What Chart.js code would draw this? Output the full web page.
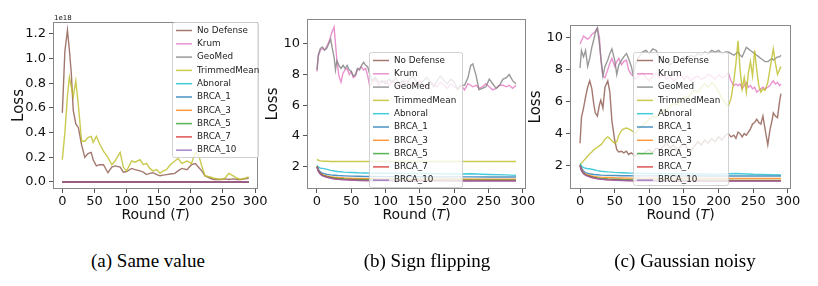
<!DOCTYPE html>
<html>
<head>
<meta charset="utf-8">
<script src="https://cdn.jsdelivr.net/npm/chart.js@4.4.1/dist/chart.umd.min.js"></script>
<style>
  body { margin: 0; background: #fff; width: 818px; height: 286px; position: relative; overflow: hidden; }
  canvas { position: absolute; top: 0; }
  .cap { position: absolute; top: 250px; font: 19px "Liberation Serif", serif; color: #000; transform: translateX(-50%); white-space: nowrap; }
</style>
</head>
<body>
<canvas id="chartA" width="275" height="232" style="left:0px"></canvas>
<canvas id="chartB" width="280" height="232" style="left:262px"></canvas>
<canvas id="chartC" width="292" height="232" style="left:526px"></canvas>
<div class="cap" style="left:148px">(a) Same value</div>
<div class="cap" style="left:427px">(b) Sign flipping</div>
<div class="cap" style="left:685px">(c) Gaussian noisy</div>
<script>
// legend names, same order in all three plots
var seriesNames = ['No Defense','Krum','GeoMed','TrimmedMean','Abnoral','BRCA_1','BRCA_3','BRCA_5','BRCA_7','BRCA_10'];
var xTicks = [0, 50, 100, 150, 200, 250, 300];
var yTicksA = [0, 0.2, 0.4, 0.6, 0.8, 1.0, 1.2];
var yTicksBC = [2, 4, 6, 8, 10];

// (a) Same value, loss in units of 1e18
var roundsA = [0,4,8,11,14,17,21,25,30,35,
  40,45,48,53,58,64,71,77,82,90,
  95,100,108,113,121,126,131,136,141,147,
  152,157,162,168,175,180,186,194,201,207,
  212,217,222,230,236,246,253,259,266,272,
  277,284,290];
var noDefA = [0.56,1.06,1.23,1.07,0.88,0.58,0.47,0.44,0.30,0.20,
  0.23,0.24,0.18,0.13,0.14,0.14,0.075,0.12,0.13,0.12,
  0.08,0.085,0.11,0.10,0.09,0.08,0.06,0.07,0.075,0.06,
  0.05,0.055,0.06,0.065,0.07,0.09,0.11,0.10,0.14,0.15,
  0.12,0.09,0.05,0.03,0.02,0.02,0.025,0.02,0.025,0.02,
  0.02,0.025,0.03];
var trimA = [0.18,0.40,0.70,0.85,0.77,0.69,0.82,0.62,0.33,0.33,
  0.36,0.37,0.32,0.37,0.31,0.25,0.20,0.14,0.17,0.24,
  0.12,0.09,0.17,0.16,0.18,0.14,0.15,0.11,0.09,0.10,
  0.07,0.09,0.10,0.14,0.17,0.19,0.15,0.17,0.15,0.24,
  0.22,0.13,0.05,0.04,0.03,0.02,0.03,0.07,0.05,0.03,
  0.02,0.03,0.04];
// the other eight defenses sit at ~0 on the 1e18 scale
var roundsFlat = [0, 290];
var lossFlat = [0, 0];

// (b) Sign flipping
var roundsB = [0,2,5,8,11,14,17,20,22,25,
  27,29,32,35,38,41,44,47,50,53,
  56,59,62,65,68,71,74,77,80,85,
  90,95,100,105,110,115,120,125,130,135,
  140,145,150,155,160,165,170,175,180,185,
  190,195,200,205,210,215,220,224,227,232,
  236,241,246,251,256,261,266,271,276,280,
  285,290];
var krumB = [8.2,9.2,9.6,9.7,9.6,9.8,10.1,10.5,10.8,11.1,
  10.0,9.0,7.9,7.5,8.1,8.3,8.4,8.0,8.2,7.8,
  7.9,8.3,8.4,8.5,8.3,8.4,7.9,7.2,7.5,7.7,
  7.3,7.5,7.6,7.3,7.6,7.4,7.2,7.5,7.6,7.4,
  7.2,7.4,7.6,7.3,7.2,7.5,7.4,7.2,7.5,7.3,
  7.1,7.4,7.2,7.1,7.3,7.0,7.4,7.3,7.2,7.3,
  7.1,7.2,7.4,7.2,7.0,7.1,7.3,7.3,7.2,7.3,
  7.1,7.3];
var geoMedB = [8.3,9.3,9.7,9.8,9.6,9.7,10.0,10.3,9.8,9.1,
  8.3,8.9,8.6,8.4,8.6,8.4,8.6,8.3,8.2,7.9,
  8.0,8.4,8.3,8.6,8.8,8.6,8.5,8.0,7.6,7.8,
  7.5,7.6,7.4,7.7,7.5,7.8,7.4,7.6,7.3,7.7,
  7.9,7.5,7.3,7.6,7.8,7.5,7.2,7.6,7.9,7.6,
  7.4,7.7,7.5,7.0,7.3,7.3,7.8,8.6,8.7,7.9,
  7.0,7.1,7.2,7.7,7.4,7.1,7.3,7.7,7.8,8.0,
  7.6,7.4];

// smooth curves share a coarser round grid
var roundsS = [0,2,4,6,8,10,15,20,25,30,40,50,60,70,80,100,125,150,175,200,225,250,275,290];
var trimB    = [2.45,2.40,2.37,2.35,2.34,2.33,2.33,2.32,2.32,2.32,2.32,2.32,2.32,2.32,2.32,2.32,2.32,2.32,2.32,2.32,2.32,2.32,2.32,2.32];
var abnoralB = [2.05,1.95,1.90,1.88,1.87,1.85,1.80,1.74,1.70,1.66,1.62,1.60,1.58,1.57,1.56,1.55,1.54,1.53,1.52,1.50,1.52,1.47,1.44,1.41];
var brca1B   = [2.00,1.80,1.68,1.60,1.55,1.52,1.47,1.44,1.42,1.40,1.38,1.36,1.35,1.34,1.34,1.33,1.32,1.32,1.31,1.31,1.31,1.30,1.30,1.30];
var brca3B   = [2.00,1.75,1.60,1.52,1.46,1.42,1.36,1.32,1.29,1.27,1.24,1.22,1.21,1.20,1.19,1.18,1.18,1.17,1.17,1.17,1.16,1.16,1.16,1.16];
var brca5B   = [1.98,1.72,1.57,1.49,1.43,1.39,1.32,1.27,1.24,1.21,1.17,1.15,1.14,1.13,1.12,1.11,1.11,1.10,1.10,1.10,1.10,1.09,1.09,1.09];
var brca7B   = [1.97,1.70,1.55,1.46,1.40,1.36,1.29,1.23,1.19,1.16,1.13,1.11,1.09,1.08,1.07,1.07,1.06,1.06,1.06,1.05,1.05,1.05,1.05,1.05];
var brca10B  = [1.96,1.69,1.54,1.45,1.39,1.35,1.28,1.22,1.18,1.15,1.12,1.10,1.08,1.07,1.06,1.06,1.05,1.05,1.05,1.04,1.04,1.04,1.04,1.04];

// (c) Gaussian noisy
var roundsC = [0,2,5,8,11,14,17,20,22,25,
  28,30,33,36,40,43,46,50,53,56,
  60,63,67,70,74,77,80,85,90,95,
  100,105,110,115,120,125,130,135,140,145,
  150,155,160,165,170,175,180,185,190,195,
  200,205,210,214,218,222,225,228,231,234,
  237,240,243,246,249,252,255,258,261,264,
  267,271,274,277,279,282,285,288,290];
var noDefC = [3.4,5.0,5.6,6.3,6.9,7.3,6.8,5.8,5.3,5.1,
  5.8,6.1,5.6,6.9,7.3,6.6,4.8,3.6,3.0,2.85,
  2.9,2.8,2.9,2.7,2.8,2.7,2.6,2.8,2.7,2.9,
  3.0,2.8,3.1,3.0,3.2,3.4,3.1,3.3,3.0,3.2,
  3.4,3.1,2.9,3.2,3.5,3.3,3.6,3.4,3.7,3.5,
  3.8,3.6,3.9,4.0,3.8,3.9,3.7,4.1,4.0,3.8,
  4.0,3.9,4.1,4.3,4.6,4.7,4.9,4.7,4.6,5.1,
  4.3,3.3,4.2,4.8,5.3,5.1,5.0,6.0,6.5];
var krumC = [9.6,9.8,10.1,10.0,9.9,10.0,10.2,10.3,10.4,10.6,
  10.0,8.6,7.6,7.5,8.0,8.4,8.7,8.2,8.5,8.7,
  8.3,8.5,8.6,8.0,7.7,7.6,7.4,7.6,7.8,7.5,
  7.3,7.6,7.8,7.5,7.7,7.4,7.6,7.3,7.5,7.7,
  7.4,7.6,7.3,7.5,7.6,7.4,7.5,7.7,7.6,7.4,
  7.7,7.5,7.6,7.8,7.3,7.0,7.1,7.0,7.1,6.8,
  7.0,7.2,6.9,7.0,6.8,6.9,6.6,6.7,6.8,6.9,
  6.8,6.9,7.0,7.2,7.3,7.1,7.2,7.0,7.1];
var geoMedC = [8.1,9.2,8.8,9.2,8.2,8.7,9.4,9.9,10.3,10.6,
  9.6,8.8,7.6,8.2,8.6,9.0,9.3,8.6,7.7,8.3,
  8.6,8.8,9.0,8.7,8.2,7.6,8.4,8.8,9.1,9.2,
  9.0,9.3,9.2,8.6,8.4,8.6,8.3,8.5,8.7,8.6,
  8.8,8.7,8.9,8.8,9.0,8.9,9.1,9.0,9.2,9.1,
  9.2,9.0,9.1,9.1,9.0,8.9,9.0,9.1,8.9,8.8,
  9.1,9.4,9.3,9.2,9.1,9.0,8.9,8.8,8.7,8.6,
  8.5,8.5,8.6,8.7,8.6,8.7,8.8,8.8,8.9];
var trimC = [2.1,2.15,2.3,2.45,2.6,2.75,2.85,3.0,3.05,3.15,
  3.25,3.3,3.45,3.65,3.8,3.7,3.55,3.4,3.5,3.9,
  4.2,4.3,4.35,4.3,4.2,4.1,4.0,4.3,4.5,4.7,
  4.9,5.1,5.0,5.3,5.5,5.4,5.7,5.9,5.8,6.1,
  6.3,6.2,6.5,6.7,6.6,6.9,7.1,6.9,7.2,7.0,
  6.6,6.2,5.9,5.7,6.2,7.3,8.4,9.8,8.0,6.8,
  7.5,6.6,7.8,8.5,7.6,9.2,8.0,7.0,6.6,6.8,
  6.7,7.2,8.0,8.8,9.3,8.4,7.7,8.0,8.2];
var abnoralC = [2.12,1.98,1.90,1.86,1.84,1.82,1.79,1.74,1.69,1.65,1.61,1.58,1.56,1.54,1.53,1.51,1.50,1.49,1.48,1.47,1.51,1.46,1.44,1.42];
var brca1C   = [2.05,1.85,1.72,1.63,1.57,1.53,1.48,1.45,1.43,1.41,1.39,1.38,1.37,1.37,1.36,1.36,1.36,1.35,1.35,1.35,1.35,1.35,1.35,1.35];
var brca3C   = [2.03,1.78,1.62,1.53,1.47,1.43,1.37,1.33,1.30,1.28,1.26,1.24,1.23,1.22,1.22,1.21,1.21,1.21,1.20,1.20,1.20,1.20,1.20,1.20];
var brca5C   = [2.01,1.74,1.58,1.49,1.43,1.39,1.32,1.27,1.23,1.20,1.17,1.15,1.13,1.12,1.11,1.10,1.10,1.09,1.09,1.09,1.08,1.08,1.08,1.08];
var brca7C   = [2.00,1.72,1.56,1.47,1.41,1.37,1.29,1.23,1.19,1.16,1.12,1.10,1.08,1.07,1.06,1.05,1.05,1.04,1.04,1.04,1.04,1.04,1.04,1.04];
var brca10C  = [1.99,1.70,1.55,1.46,1.40,1.36,1.28,1.22,1.18,1.15,1.11,1.09,1.07,1.06,1.05,1.04,1.04,1.03,1.03,1.03,1.03,1.03,1.03,1.03];

// matplotlib tab10 order
var colors = ['140,86,75','227,119,194','127,127,127','188,189,34','23,190,207',
              '31,119,180','255,127,14','44,160,44','214,39,40','148,103,189'];

Chart.defaults.font.family = "'DejaVu Sans'";
Chart.defaults.font.size = 13;
Chart.defaults.color = '#111';

function line(i, xs, ys) {
  return {
    label: seriesNames[i],
    data: xs.map(function (x, k) { return { x: x, y: ys[k] }; }),
    borderColor: 'rgba(' + colors[i] + ',0.8)',
    borderWidth: 1.4,
    pointRadius: 0,
    fill: false,
    tension: 0,
    order: 10 - i   // later series on top, like matplotlib
  };
}

// frame, axis titles, offset text and an in-axes legend
var decor = {
  id: 'decor',
  afterDraw: function (chart, args, o) {
    var ctx = chart.ctx, a = chart.chartArea;
    ctx.save();
    ctx.strokeStyle = '#888';
    ctx.lineWidth = 1;
    ctx.strokeRect(Math.round(a.left) + 0.5, Math.round(a.top) + 0.5,
                   Math.round(a.right - a.left) - 1, Math.round(a.bottom - a.top) - 1);

    // x title with italic T
    ctx.fillStyle = '#111';
    ctx.textBaseline = 'alphabetic';
    ctx.textAlign = 'left';
    var f = "14px 'DejaVu Sans'", fi = "italic 14px 'DejaVu Sans'";
    ctx.font = f;
    var w1 = ctx.measureText('Round (').width, w3 = ctx.measureText(')').width;
    ctx.font = fi;
    var w2 = ctx.measureText('T').width;
    var x0 = (a.left + a.right) / 2 - (w1 + w2 + w3) / 2, ty = 219;
    ctx.font = f; ctx.fillText('Round (', x0, ty);
    ctx.font = fi; ctx.fillText('T', x0 + w1, ty);
    ctx.font = f; ctx.fillText(')', x0 + w1 + w2, ty);

    // y title
    ctx.save();
    ctx.translate(a.left - 34, (a.top + a.bottom) / 2);
    ctx.rotate(-Math.PI / 2);
    ctx.textAlign = 'center';
    ctx.textBaseline = 'middle';
    ctx.font = "15px 'DejaVu Sans'";
    ctx.fillText('Loss', 0, 0);
    ctx.restore();

    if (o.offsetText) {
      ctx.font = "7px 'DejaVu Sans'";
      ctx.textAlign = 'left';
      ctx.fillText(o.offsetText, a.left + 1, a.top - 2);
    }

    // legend box
    var b = o.box;
    ctx.beginPath();
    ctx.roundRect(b[0] + 0.5, b[1] + 0.5, b[2], b[3], 2);
    ctx.fillStyle = 'rgba(255,255,255,0.8)';
    ctx.fill();
    ctx.strokeStyle = 'rgba(204,204,204,0.9)';
    ctx.stroke();
    ctx.font = "8.8px 'DejaVu Sans'";
    ctx.textBaseline = 'middle';
    ctx.textAlign = 'left';
    chart.data.datasets.forEach(function (ds, i) {
      var y = b[1] + 8.5 + i * 13.3;
      ctx.strokeStyle = ds.borderColor;
      ctx.lineWidth = 1.5;
      ctx.beginPath();
      ctx.moveTo(b[0] + 4, y);
      ctx.lineTo(b[0] + 20, y);
      ctx.stroke();
      ctx.fillStyle = '#222';
      ctx.fillText(ds.label, b[0] + 25, y);
    });
    ctx.restore();
  }
};

function makeChart(id, datasets, opt) {
  return new Chart(document.getElementById(id), {
    type: 'line',
    data: { datasets: datasets },
    plugins: [decor],
    options: {
      responsive: false,
      animation: false,
      devicePixelRatio: 1,
      layout: { padding: { top: opt.top, right: opt.right, left: 0, bottom: 0 } },
      plugins: {
        legend: { display: false },
        tooltip: { enabled: false },
        decor: { box: opt.box, offsetText: opt.offsetText }
      },
      scales: {
        x: {
          type: 'linear',
          min: -14.5, max: 304.5,
          afterBuildTicks: function (s) { s.ticks = xTicks.map(function (v) { return { value: v }; }); },
          afterFit: function (s) { s.height = 43; },
          ticks: { padding: 1, maxRotation: 0, autoSkip: false, color: '#111', font: { size: 13 } },
          grid: { drawOnChartArea: false, drawTicks: true, tickLength: 4, color: '#555' },
          border: { display: false }
        },
        y: {
          min: opt.ymin, max: opt.ymax,
          afterBuildTicks: function (s) { s.ticks = opt.yTicks.map(function (v) { return { value: v }; }); },
          afterFit: function (s) { s.width = opt.yw; },
          ticks: { padding: 3, autoSkip: false, color: '#111', font: { size: 13 }, callback: opt.fmt },
          grid: { drawOnChartArea: false, drawTicks: true, tickLength: 4, color: '#555' },
          border: { display: false }
        }
      }
    }
  });
}

makeChart('chartA', [
  line(0, roundsA, noDefA), line(1, roundsFlat, lossFlat), line(2, roundsFlat, lossFlat),
  line(3, roundsA, trimA), line(4, roundsFlat, lossFlat), line(5, roundsFlat, lossFlat),
  line(6, roundsFlat, lossFlat), line(7, roundsFlat, lossFlat), line(8, roundsFlat, lossFlat),
  line(9, roundsFlat, lossFlat)
], { top: 22, right: 17, yw: 53, ymin: -0.057, ymax: 1.297, yTicks: yTicksA,
     fmt: function (v) { return v.toFixed(1); }, box: [172, 22, 86, 135], offsetText: '1e18' });

makeChart('chartB', [
  line(0, [], []), line(1, roundsB, krumB), line(2, roundsB, geoMedB),
  line(3, roundsS, trimB), line(4, roundsS, abnoralB), line(5, roundsS, brca1B),
  line(6, roundsS, brca3B), line(7, roundsS, brca5B), line(8, roundsS, brca7B),
  line(9, roundsS, brca10B)
], { top: 19, right: 16, yw: 45, ymin: 0.52, ymax: 11.63, yTicks: yTicksBC,
     fmt: function (v) { return v; }, box: [107, 52, 93, 135] });

makeChart('chartC', [
  line(0, roundsC, noDefC), line(1, roundsC, krumC), line(2, roundsC, geoMedC),
  line(3, roundsC, trimC), line(4, roundsS, abnoralC), line(5, roundsS, brca1C),
  line(6, roundsS, brca3C), line(7, roundsS, brca5C), line(8, roundsS, brca7C),
  line(9, roundsS, brca10C)
], { top: 25, right: 27, yw: 44, ymin: 0.54, ymax: 10.79, yTicks: yTicksBC,
     fmt: function (v) { return v; }, box: [107, 52, 95, 133] });
</script>
</body>
</html>
